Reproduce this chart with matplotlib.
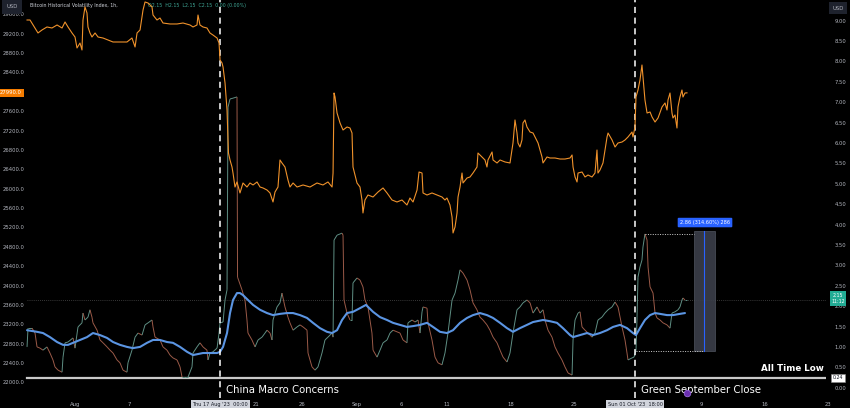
import matplotlib
matplotlib.use('Agg')
import matplotlib.pyplot as plt
import numpy as np
from matplotlib.collections import LineCollection
from matplotlib.transforms import blended_transform_factory as blend
from matplotlib.patches import Rectangle

# x values: days since 2023-08-01 00:00 (1h chart)
price_days = [-5.29, -4.96, -4.41, -4.08, -3.64, -3.09, -2.54, -1.98, -1.43, -1.10, -0.77, -0.33, 0.00, 0.22, 0.55, 0.77,
              0.88, 1.10, 1.32, 1.43, 1.65, 1.87, 2.21, 2.54, 3.09, 3.64, 4.19, 4.96, 5.73, 6.28, 6.62, 6.84, 7.17, 7.50,
              7.72, 8.05, 8.49, 8.60, 9.04, 9.37, 9.70, 10.47, 11.25, 11.91, 12.68, 13.01, 13.45, 13.56, 13.78, 14.11,
              14.55, 14.88, 15.21, 15.66, 15.88, 15.99, 16.21, 16.32, 16.54, 16.76, 16.87, 16.92, 17.09, 17.31, 17.42,
              17.64, 17.86, 18.19, 18.52, 18.96, 19.29, 19.63, 20.07, 20.40, 20.73, 21.17, 21.50, 21.83, 22.05, 22.38,
              22.60, 22.82, 23.15, 23.48, 23.70, 24.04, 24.48, 25.14, 25.91, 26.68, 27.34, 27.89, 28.34, 28.45, 28.56,
              28.67, 28.89, 29.22, 29.55, 29.99, 30.32, 30.54, 30.65, 31.09, 31.42, 31.64, 31.75, 31.97, 32.30, 32.86,
              33.41, 33.96, 34.40, 34.95, 35.50, 36.05, 36.60, 36.93, 37.27, 37.71, 37.93, 38.26, 38.37, 38.81, 39.36,
              39.91, 40.46, 40.79, 41.01, 41.34, 41.57, 41.68, 41.90, 42.12, 42.23, 42.45, 42.67, 42.78, 43.22, 43.55,
              43.88, 44.32, 44.43, 44.87, 45.20, 45.42, 45.53, 45.98, 46.09, 46.53, 46.86, 47.41, 47.96, 48.18, 48.29,
              48.51, 48.73, 48.84, 49.06, 49.28, 49.39, 49.61, 49.83, 50.17, 50.50, 50.72, 51.05, 51.49, 51.60, 52.04,
              52.37, 52.92, 53.47, 54.02, 54.58, 54.80, 54.91, 55.13, 55.35, 55.46, 55.90, 56.23, 56.56, 57.00, 57.33,
              57.55, 57.66, 57.88, 58.21, 58.66, 58.77, 59.21, 59.54, 59.87, 60.31, 60.64, 60.97, 61.41, 61.52, 61.74,
              61.85, 62.07, 62.29, 62.51, 62.62, 62.84, 63.07, 63.40, 63.62, 63.95, 64.28, 64.72, 65.05, 65.27, 65.38,
              65.60, 65.82, 65.93, 66.15, 66.37, 66.48, 66.70, 66.92, 67.03, 67.25, 67.47]
price_vals = [29494, 29494, 29329, 29226, 29288, 29350, 29329, 29391, 29329, 29453, 29350, 29226, 29143, 28916, 29019, 28875,
              29494, 29763, 29639, 29350, 29226, 29143, 29226, 29143, 29122, 29081, 29040, 29040, 29040, 29122, 28937, 29226,
              29288, 29701, 29866, 29845, 29763, 29597, 29494, 29535, 29432, 29412, 29412, 29432, 29391, 29350, 29391, 29597,
              29391, 29350, 29329, 29226, 29184, 29122, 29019, 28668, 28606, 28524, 28194, 27636, 27017, 26748, 26604, 26459,
              26335, 26046, 26150, 25923, 26129, 26046, 26129, 26088, 26150, 26046, 26026, 25984, 25923, 25737, 25943, 26046,
              26604, 26542, 26459, 26191, 26046, 26129, 26046, 26088, 26046, 26129, 26088, 26150, 26046, 26335, 27987, 27904,
              27574, 27368, 27223, 27285, 27264, 27161, 26459, 26129, 26046, 25778, 25510, 25778, 25881, 25840, 25943, 26026,
              25923, 25778, 25737, 25778, 25675, 25819, 25737, 25984, 26356, 26335, 25923, 25881, 25923, 25881, 25840, 25778,
              25819, 25675, 25427, 25097, 25221, 25510, 25840, 26046, 26335, 26129, 26232, 26253, 26335, 26459, 26748, 26666,
              26604, 26459, 26604, 26769, 26604, 26542, 26604, 26563, 26542, 26810, 26955, 27430, 27161, 26955, 26872, 27017,
              27368, 27430, 27285, 27182, 27161, 27079, 26955, 26666, 26542, 26666, 26645, 26645, 26624, 26624, 26645, 26707,
              26459, 26253, 26150, 26335, 26356, 26253, 26294, 26253, 26335, 26810, 26335, 26397, 26542, 27079, 27161, 27017,
              26872, 26955, 26975, 27017, 27079, 27182, 27079, 27285, 27904, 28049, 28255, 28565, 28317, 27843, 27574, 27595,
              27492, 27388, 27471, 27698, 27781, 27636, 27843, 27987, 27574, 27471, 27533, 27264, 27698, 27904, 28049, 27904,
              27987, 27990]

vol_days = [-5.29, -5.18, -4.74, -4.41, -4.19, -3.86, -3.53, -3.09, -2.76, -2.43, -2.21, -1.87, -1.43, -1.32, -1.10, -0.77,
            -0.22, 0.00, 0.33, 0.77, 0.88, 1.10, 1.43, 1.65, 1.87, 1.98, 2.43, 2.76, 3.09, 3.53, 3.86, 4.19, 4.63, 4.96,
            5.29, 5.73, 5.84, 6.28, 6.62, 6.95, 7.39, 7.72, 8.05, 8.49, 8.60, 8.82, 9.37, 9.70, 10.14, 10.47, 10.80, 11.25,
            11.58, 11.80, 12.13, 12.46, 12.90, 13.01, 13.45, 13.78, 14.11, 14.55, 14.66, 14.88, 15.21, 15.66, 15.88, 15.99,
            16.32, 16.54, 16.76, 16.87, 17.09, 17.42, 17.86, 17.92, 18.03, 18.41, 18.74, 18.96, 19.07, 19.51, 19.85, 20.18,
            20.62, 20.95, 21.17, 21.50, 21.72, 21.83, 22.27, 22.60, 22.82, 23.15, 23.48, 23.70, 24.04, 24.48, 24.81, 25.14,
            25.58, 25.69, 26.13, 26.46, 26.79, 27.23, 27.56, 27.89, 28.34, 28.45, 28.56, 28.89, 29.44, 29.55, 29.66, 29.99,
            30.32, 30.54, 30.65, 31.09, 31.42, 31.75, 31.97, 32.30, 32.74, 32.86, 33.30, 33.63, 33.96, 34.40, 34.73, 35.06,
            35.50, 35.83, 36.16, 36.60, 36.71, 37.16, 37.49, 37.82, 38.04, 38.26, 38.37, 38.81, 38.92, 39.36, 39.69, 40.02,
            40.46, 40.79, 41.12, 41.57, 41.90, 42.23, 42.45, 42.78, 43.22, 43.55, 43.88, 44.32, 44.65, 44.98, 45.42, 45.75,
            46.09, 46.53, 46.86, 47.19, 47.63, 47.96, 48.29, 48.73, 49.06, 49.39, 49.83, 50.17, 50.50, 50.94, 51.27, 51.60,
            51.82, 52.15, 52.59, 52.92, 53.25, 53.69, 54.02, 54.36, 54.80, 54.91, 55.13, 55.46, 55.68, 55.90, 56.23, 56.56,
            57.00, 57.33, 57.66, 58.10, 58.43, 58.77, 59.21, 59.54, 59.87, 60.31, 60.64, 60.86, 60.97, 61.41, 61.63, 61.85,
            61.96, 62.07, 62.29, 62.51, 62.62, 62.84, 63.07, 63.18, 63.40, 63.73, 63.95, 64.17, 64.50, 64.83, 65.27, 65.60,
            65.82, 66.15, 66.48, 66.70, 66.92, 67.03, 67.25, 67.47]
vol_vals = [1.00, 1.46, 1.46, 1.34, 1.00, 0.97, 0.92, 1.00, 0.85, 0.68, 0.51, 0.43, 0.38, 0.75, 1.10, 1.12,
            1.22, 0.97, 1.49, 1.59, 1.83, 1.66, 1.73, 1.91, 1.73, 1.59, 1.41, 1.17, 1.10, 1.00, 0.92, 0.85, 0.68, 0.61,
            0.43, 0.38, 0.61, 0.92, 1.24, 1.34, 1.29, 1.54, 1.59, 1.66, 1.49, 1.24, 1.17, 1.00, 0.92, 0.80, 0.73, 0.68,
            0.51, 0.26, 0.26, 0.26, 0.51, 0.85, 1.00, 1.10, 1.00, 0.92, 0.68, 0.85, 0.88, 0.97, 1.34, 1.59,
            1.61, 2.15, 2.40, 6.88, 7.08, 7.10, 7.13, 2.71, 2.64, 2.40, 2.15, 1.66, 1.34, 1.17, 1.00, 1.17,
            1.24, 1.34, 1.41, 1.34, 1.17, 1.66, 1.98, 2.08, 2.32, 1.98, 1.73, 1.59, 1.41, 1.49, 1.54, 1.49,
            1.41, 0.85, 0.51, 0.43, 0.51, 0.85, 1.17, 1.24, 1.34, 1.24, 3.62, 3.74, 3.79, 3.74, 2.15, 1.83,
            1.66, 1.66, 2.57, 2.69, 2.64, 2.47, 2.15, 1.98, 1.34, 0.92, 0.75, 0.92, 1.10, 1.17, 1.34, 1.41,
            1.37, 1.34, 1.17, 1.10, 1.59, 1.66, 1.61, 1.66, 1.34, 1.86, 1.98, 1.95, 1.59, 1.17, 0.75, 0.61,
            0.56, 0.85, 1.34, 2.15, 2.32, 2.64, 2.89, 2.81, 2.64, 2.40, 2.08, 1.91, 1.73, 1.66, 1.54, 1.41,
            1.24, 1.10, 0.92, 0.75, 0.63, 0.85, 1.34, 1.91, 1.98, 2.08, 2.15, 2.08, 1.83, 1.98, 1.83, 1.91,
            1.66, 1.41, 1.24, 1.00, 0.85, 0.68, 0.51, 0.36, 0.31, 1.17, 1.66, 1.83, 1.86, 1.49, 1.41, 1.34,
            1.24, 1.34, 1.66, 1.73, 1.83, 1.91, 1.98, 2.10, 1.98, 1.49, 1.17, 0.85, 0.68, 0.73, 0.75, 0.91,
            1.66, 2.71, 2.96, 3.13, 3.45, 3.77, 3.62, 2.96, 2.47, 2.32, 1.83, 1.71, 1.66, 1.59, 1.54, 1.46,
            1.83, 1.86, 1.91, 1.98, 2.15, 2.20, 2.15, 2.15]

ma_days = [-5.29, -4.19, -3.53, -2.76, -1.98, -1.32, -0.77, -0.22, 0.55, 1.32, 1.98, 2.76, 3.53, 4.19, 4.96, 5.73,
           6.39, 7.17, 7.94, 8.60, 9.37, 10.14, 10.80, 11.58, 12.35, 13.01, 14.11, 14.88, 15.66, 15.99, 16.32, 16.76,
           17.09, 17.42, 17.86, 18.19, 18.52, 19.07, 19.63, 20.40, 21.17, 21.83, 22.60, 23.37, 24.04, 24.81, 25.58,
           26.24, 27.01, 27.78, 28.34, 28.89, 29.44, 29.99, 30.65, 31.42, 32.08, 32.86, 33.63, 34.40, 35.06, 35.83,
           36.60, 37.27, 38.04, 38.81, 39.47, 40.24, 41.01, 41.68, 42.45, 43.22, 43.88, 44.65, 45.42, 46.09, 46.86,
           47.63, 48.29, 49.06, 49.83, 50.50, 51.60, 52.37, 53.14, 53.80, 54.58, 54.91, 55.68, 56.45, 57.11, 57.88,
           58.66, 59.32, 60.09, 60.86, 61.52, 61.85, 62.29, 62.84, 63.40, 63.95, 64.50, 65.27, 65.93, 66.70, 67.25]
ma_vals = [1.41, 1.37, 1.34, 1.24, 1.12, 1.05, 1.05, 1.10, 1.17, 1.24, 1.34, 1.29, 1.22, 1.12, 1.05, 1.00,
           0.97, 1.00, 1.10, 1.17, 1.17, 1.12, 1.10, 1.00, 0.88, 0.80, 0.85, 0.85, 0.85, 0.88, 1.00, 1.34,
           1.83, 2.15, 2.32, 2.32, 2.27, 2.15, 2.03, 1.91, 1.83, 1.78, 1.81, 1.83, 1.83, 1.78, 1.71,
           1.59, 1.46, 1.37, 1.34, 1.41, 1.66, 1.83, 1.86, 1.95, 2.03, 1.86, 1.73, 1.66, 1.59, 1.54,
           1.49, 1.51, 1.54, 1.59, 1.49, 1.37, 1.34, 1.41, 1.59, 1.71, 1.78, 1.83, 1.78, 1.71, 1.59,
           1.46, 1.37, 1.46, 1.54, 1.61, 1.66, 1.63, 1.59, 1.46, 1.29, 1.24, 1.29, 1.34, 1.29, 1.34,
           1.41, 1.49, 1.54, 1.46, 1.34, 1.29, 1.46, 1.66, 1.78, 1.83, 1.81, 1.78, 1.78, 1.81, 1.83]

price_ticks = list(range(22000, 29601, 400))
vol_ticks = [i * 0.5 for i in range(19)]
date_tick_pos = [0, 6, 20, 25, 31, 36, 41, 48, 55, 69, 76, 83]
date_tick_labels = ['Aug', '7', '21', '26', 'Sep', '6', '11', '18', '25', '9', '16', '23']

event_days = [16.0, 61.75]
event_labels = ['China Macro Concerns', 'Green September Close']
event_boxes = ["Thu 17 Aug '23  00:00", "Sun 01 Oct '23  18:00"]
atl_value = 0.24
last_vol = 2.15
last_price = 27990.0
measure_low, measure_high = 0.91, 3.77
measure_start, measure_peak = 61.85, 62.84
measure_text = '2.86 (314.60%) 286'

XMIN, XMAX = -8.27, 82.8
BG = '#000000'
TXT = '#b2b5be'

fig = plt.figure(figsize=(8.5, 4.08), dpi=100, facecolor=BG)
ax = fig.add_axes([0, 10 / 408, 826 / 850, 398 / 408])
ax.set_facecolor(BG)
ax2 = ax.twinx()
for a in (ax, ax2):
    for s in a.spines.values():
        s.set_visible(False)
ax.set_xlim(XMIN, XMAX)
ax.set_ylim(-0.253, 9.507)
ax2.set_ylim(21690, 29907)
ax.set_xticks([])
ax2.set_yticks([])

# right (volatility) scale
ax.yaxis.tick_right()
ax.set_yticks(vol_ticks, labels=[f'{v:.2f}' for v in vol_ticks])
ax.tick_params(axis='y', length=0, pad=6, labelsize=3.8, labelcolor=TXT)

# left (price) scale labels drawn inside the pane (the last-price tag hides the one it covers)
tr_left = blend(ax2.transAxes, ax2.transData)
for p in price_ticks:
    if abs(p - last_price) < 200:
        continue
    ax2.text(0.0036, p, f'{p:.1f}', transform=tr_left, fontsize=3.8, color=TXT, ha='left', va='center')
ax2.text(0.0, last_price, f'{last_price:.1f}', transform=tr_left, fontsize=3.8, color='white',
         ha='left', va='center', bbox=dict(boxstyle='square,pad=0.35', fc='#f57c00', ec='none'), zorder=6)

# date labels
tr_bot = blend(ax.transData, ax.transAxes)
for pos, lbl in zip(date_tick_pos, date_tick_labels):
    ax.text(pos, -0.0151, lbl, transform=tr_bot, fontsize=3.8, color=TXT, ha='center', va='center', clip_on=False)

# title legend
ax.text(30 / 850, 1 - 6 / 408, 'Bitcoin Historical Volatility Index, 1h,', transform=fig.transFigure,
        fontsize=3.4, color='#d1d4dc', ha='left', va='center', zorder=1)
ax.text(148 / 850, 1 - 6 / 408, 'O2.15  H2.15  L2.15  C2.15  0.00 (0.00%)', transform=fig.transFigure,
        fontsize=3.4, color='#3fa796', ha='left', va='center', zorder=1)

# reference lines
ax.plot([vol_days[0], XMAX], [last_vol, last_vol], color='#4a4a4a', lw=0.6, ls=(0, (1, 1.5)), zorder=1)
ax.plot([vol_days[0], XMAX], [atl_value, atl_value], color='#c9c9c9', lw=1.6, zorder=2)

# volatility line coloured by direction
pts = np.column_stack([vol_days, vol_vals])
segs = np.stack([pts[:-1], pts[1:]], axis=1)
cols = ['#5f8f84' if b >= a else '#9b5a48' for a, b in zip(vol_vals[:-1], vol_vals[1:])]
ax.add_collection(LineCollection(segs, colors=cols, linewidths=0.7, zorder=3))
ax.plot(ma_days, ma_vals, color='#5b95e3', lw=1.5, zorder=4, solid_capstyle='round')

# price line
ax2.plot(price_days, price_vals, color='#f0922b', lw=0.8, zorder=3)

# event markers
for d, lbl, box in zip(event_days, event_labels, event_boxes):
    ax.axvline(d, color='white', lw=1.1, ls=(0, (4, 3)), zorder=5)
    ax.text(d + 0.7, 0.02, lbl, transform=tr_bot, color='white', fontsize=7.3, ha='left', va='center', zorder=6)
    ax.text(d, -0.0151, box, transform=tr_bot, fontsize=3.6, color='#131722', ha='center', va='center',
            clip_on=False, zorder=7, bbox=dict(boxstyle='square,pad=0.35', fc='#d1d4dc', ec='none'))

ax.text(82.6, 0.46, 'All Time Low', color='white', fontsize=6.3, fontweight='bold', ha='right', va='center', zorder=6)

# measurement tool
ax.plot([measure_peak, 68.25], [measure_high] * 2, color='#cfcfcf', lw=0.7, ls=(0, (1, 1.5)), zorder=5)
ax.plot([measure_start, 69.24], [measure_low] * 2, color='#cfcfcf', lw=0.7, ls=(0, (1, 1.5)), zorder=5)
ax.add_patch(Rectangle((68.25, measure_low), 2.31, 3.84 - measure_low, fc='#3b3f4a', ec='#555a66', lw=0.5,
                       alpha=0.9, zorder=4))
ax.plot([69.35, 69.35], [measure_low, 3.84], color='#2962ff', lw=0.8, zorder=5)
ax.text(69.46, 4.05, measure_text, fontsize=3.6, color='white', ha='center', va='center', zorder=7,
        bbox=dict(boxstyle='round,pad=0.45,rounding_size=0.2', fc='#2962ff', ec='none'))

# event icon
ax.scatter([67.47], [0.0126], s=22, color='#6a2fb0', edgecolors='#9c6ade', linewidths=0.6,
           transform=tr_bot, clip_on=False, zorder=8)

# right scale value labels
tr_right = blend(fig.transFigure, ax.transData)
ax.text(838 / 850, last_vol + 0.17, f'{last_vol:.2f}\n11:12', transform=tr_right, fontsize=3.4, color='white',
        ha='center', va='top', linespacing=1.3, clip_on=False, zorder=8,
        bbox=dict(boxstyle='square,pad=0.35', fc='#22ab94', ec='none'))
ax.text(838 / 850, atl_value, f'{atl_value:.2f}', transform=tr_right, fontsize=3.4, color='#131722',
        ha='center', va='center', clip_on=False, zorder=8,
        bbox=dict(boxstyle='square,pad=0.35', fc='white', ec='#888888', lw=0.4))

# currency boxes
fig.text(12 / 850, 1 - 7 / 408, 'USD', fontsize=3.8, color=TXT, ha='center', va='center',
         bbox=dict(boxstyle='square,pad=0.9', fc='#1e222d', ec='none'))
fig.text(838 / 850, 1 - 8 / 408, 'USD', fontsize=3.8, color=TXT, ha='center', va='center',
         bbox=dict(boxstyle='square,pad=0.6', fc='#1e222d', ec='none'))

fig.savefig('out.png', dpi=100, facecolor=BG)
